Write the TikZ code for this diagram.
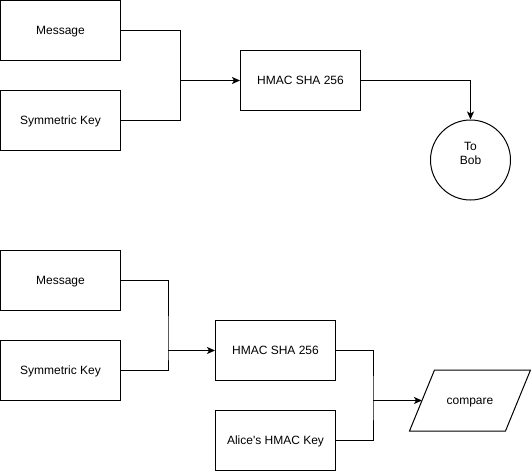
\documentclass[tikz,border=0pt]{standalone}
\usepackage{fontspec}
\setmainfont{Liberation Sans}
\usepackage{tikz}
\usetikzlibrary{arrows.meta}
\tikzset{
    blk/.style={draw, line width=1pt, minimum width=120pt, minimum height=60pt, inner sep=0pt, text height=8.6pt, text depth=0pt, font=\fontsize{12}{14}\selectfont},
    con/.style={line width=1pt},
    arr/.style={con, -{Stealth[length=8pt, width=7pt, inset=2pt]}}
}
\begin{document}
\begin{tikzpicture}[x=1pt, y=-1pt]
\useasboundingbox (0,0) rectangle (531,471);
\foreach \x/\y/\p/\labeltext in {60.5/30.5/msgA/{Message}, 60.5/120.5/keyA/{Symmetric Key}, 300.5/80.5/hmacA/{HMAC SHA 256}, 60.5/280.5/msgB/{Message}, 60.5/370.5/keyB/{Symmetric Key}, 275.5/350.5/hmacB/{HMAC SHA 256}, 275.5/440/aliceB/{Alice\textquotesingle s HMAC Key}}{
    \node[blk] (\p) at (\x,\y) {\labeltext};
}
\node[blk, circle, minimum size=80pt, align=center] (bob) at (470.5,160) {To\\Bob};
\node[blk, draw=none, minimum width=95pt] (cmp) at (470,400.5) {compare};
\draw[con] ([xshift=-12.5pt]cmp.south west) -- ([xshift=12.5pt]cmp.north west) -- ([xshift=12.5pt]cmp.north east) -- ([xshift=-12.5pt]cmp.south east) -- cycle;
% junctions
\coordinate (jA) at (180.5,80.5);
\coordinate (jB) at (168,350.5);
\coordinate (jC) at (373,400.5);
\draw[con] (msgA.east) -| (jA) |- (keyA.east);
\draw[arr] (jA) -- (hmacA.west);
\draw[arr] (hmacA.east) -| (bob.north);
\draw[con] (msgB.east) -| (jB) |- (keyB.east);
\draw[arr] (jB) -- (hmacB.west);
\draw[con] (hmacB.east) -| (jC) |- (aliceB.east);
\draw[arr] (jC) -- (cmp.west);
\end{tikzpicture}
\end{document}
